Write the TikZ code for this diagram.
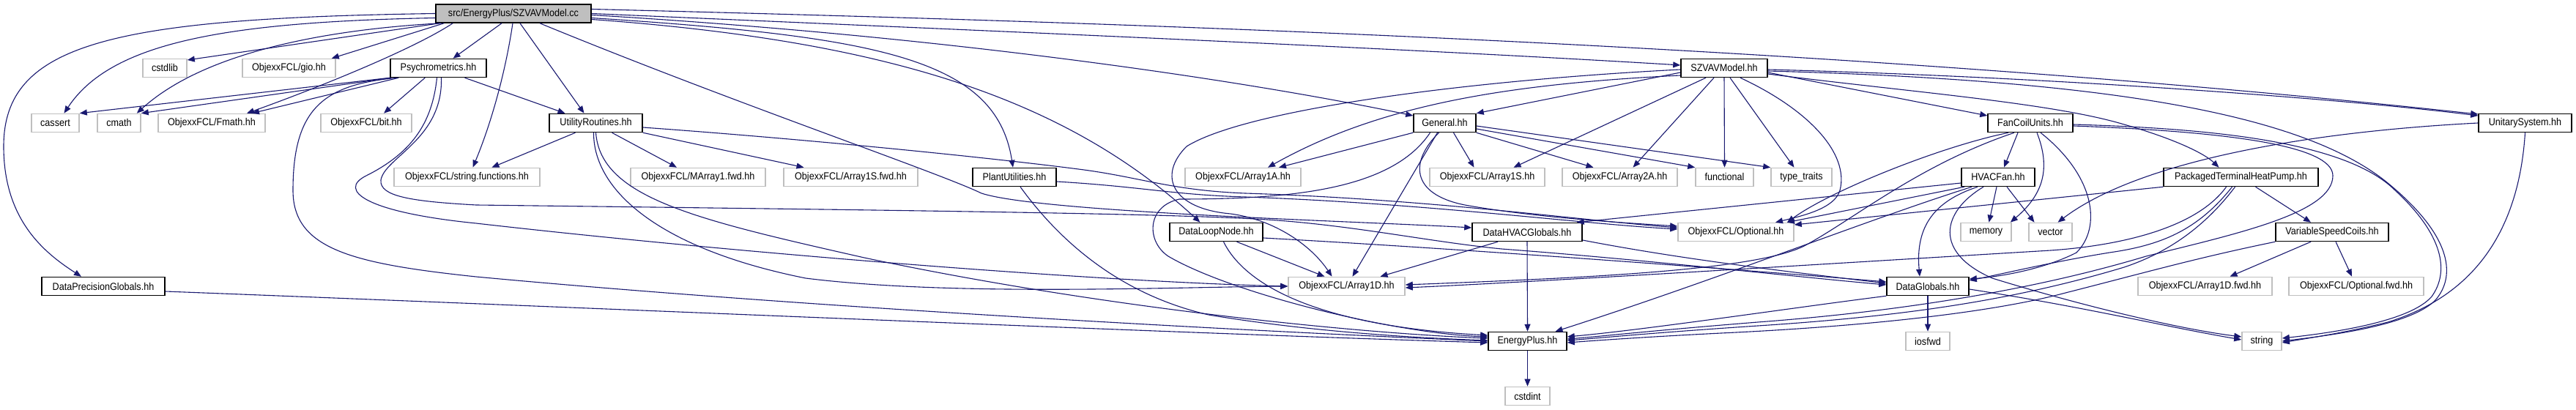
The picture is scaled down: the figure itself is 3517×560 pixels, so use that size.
\documentclass[tikz,border=0pt]{standalone}
\usepackage{fontspec}
\setmainfont{Liberation Sans}[FakeStretch=0.9]
\usetikzlibrary{arrows.meta}
\definecolor{lgray}{HTML}{BFBFBF}
\definecolor{navyedge}{HTML}{191970}
\tikzset{
  box/.style={rectangle, inner sep=0pt, minimum height=12.5pt, font=\fontsize{7}{8}\selectfont, text=black},
  nb/.style={box, draw=black, line width=0.75pt},
  ng/.style={box, draw=lgray, line width=0.8pt},
  ntop/.style={nb, fill=lgray},
  edg/.style={draw=navyedge, line width=0.55pt, -{Triangle[length=5pt,width=4pt]}}
}
\begin{document}
\begin{tikzpicture}[x=0.5pt,y=-0.5pt]
\useasboundingbox (0,0) rectangle (3517,560);
\fill[white] (0,0) rectangle (3517,560);
% row 0
\node[ntop, minimum width=106pt] (A) at (701,18.5) {src/EnergyPlus/SZVAVModel.cc};
% row 1
\node[ng, minimum width=30pt] (cstdlib) at (225,93) {cstdlib};
\node[ng, minimum width=63.5pt] (gio) at (394.5,93) {ObjexxFCL/gio.hh};
\node[nb, minimum width=65.5pt] (Psy) at (598.5,93) {Psychrometrics.hh};
\node[nb, minimum width=59pt] (SZh) at (2354,93) {SZVAVModel.hh};
% row 2
\node[ng, minimum width=32.5pt] (cassert) at (75.5,168) {cassert};
\node[ng, minimum width=29.5pt] (cmath) at (162.5,168) {cmath};
\node[ng, minimum width=73pt] (Fmath) at (289,168) {ObjexxFCL/Fmath.hh};
\node[ng, minimum width=62pt] (bit) at (500,168) {ObjexxFCL/bit.hh};
\node[nb, minimum width=63.5pt] (UR) at (813.5,168) {UtilityRoutines.hh};
\node[nb, minimum width=42.5pt] (General) at (1972.5,168) {General.hh};
\node[nb, minimum width=58pt] (FCU) at (2772,168) {FanCoilUnits.hh};
\node[nb, minimum width=63.5pt] (US) at (3447.5,168) {UnitarySystem.hh};
% row 3
\node[ng, minimum width=99.5pt] (strfun) at (637.5,242) {ObjexxFCL/string.functions.hh};
\node[ng, minimum width=92pt] (MAfwd) at (953,242) {ObjexxFCL/MArray1.fwd.hh};
\node[ng, minimum width=91.5pt] (ASfwd) at (1161.5,242) {ObjexxFCL/Array1S.fwd.hh};
\node[nb, minimum width=57pt] (PU) at (1385,242) {PlantUtilities.hh};
\node[ng, minimum width=79pt] (A1A) at (1697,242) {ObjexxFCL/Array1A.hh};
\node[ng, minimum width=78.5pt] (A1S) at (2030.5,242) {ObjexxFCL/Array1S.hh};
\node[ng, minimum width=78.5pt] (A2A) at (2211.5,242) {ObjexxFCL/Array2A.hh};
\node[ng, minimum width=39.5pt] (functional) at (2354.5,242) {functional};
\node[ng, minimum width=41.5pt] (typetraits) at (2459.5,242) {type\_traits};
\node[nb, minimum width=50pt] (HVACFan) at (2728,242) {HVACFan.hh};
\node[nb, minimum width=105.5pt] (PTHP) at (3059.5,242) {PackagedTerminalHeatPump.hh};
% row 4
\node[nb, minimum width=63.5pt] (DLN) at (1660.5,317) {DataLoopNode.hh};
\node[nb, minimum width=75pt] (DHVAC) at (2085,317) {DataHVACGlobals.hh};
\node[ng, minimum width=79pt] (Optional) at (2370,317) {ObjexxFCL/Optional.hh};
\node[ng, minimum width=34.5pt] (memory) at (2711.5,317) {memory};
\node[ng, minimum width=29.5pt] (vector) at (2799.5,317) {vector};
\node[nb, minimum width=77pt] (VSC) at (3184,317) {VariableSpeedCoils.hh};
% row 5
\node[nb, minimum width=84pt] (DPG) at (141,391) {DataPrecisionGlobals.hh};
\node[ng, minimum width=79.5pt] (A1D) at (1838.5,391) {ObjexxFCL/Array1D.hh};
\node[nb, minimum width=56pt] (DG) at (2632,391) {DataGlobals.hh};
\node[ng, minimum width=91.5pt] (A1Dfwd) at (3010.5,391) {ObjexxFCL/Array1D.fwd.hh};
\node[ng, minimum width=92pt] (Optfwd) at (3217,391) {ObjexxFCL/Optional.fwd.hh};
% row 6
\node[nb, minimum width=53.5pt] (EP) at (2085.5,466) {EnergyPlus.hh};
\node[ng, minimum width=30pt] (iosfwd) at (2632,466) {iosfwd};
\node[ng, minimum width=27pt] (string) at (3088,466) {string};
% row 7
\node[ng, minimum width=30.5pt] (cstdint) at (2085.5,541) {cstdint};

% ---- edges from SZVAVModel.cc
\draw[edg] (A.west) .. controls (150,25) and (5,60) .. (5,200) .. controls (5,300) and (60,345) .. ([xshift=-15pt]DPG.north);
\draw[edg] ([yshift=-3pt]A.west) .. controls (300,30) and (150,60) .. ([xshift=6pt]cassert.north);
\draw[edg] ([xshift=3pt]A.south west) -- ([yshift=5.5pt]cstdlib.east);
\draw[edg] ([xshift=4pt]A.south west) .. controls (450,40) and (280,70) .. ([xshift=-3pt]cmath.north east);
\draw[edg] ([xshift=6pt]A.south west) -- ([xshift=-3pt]gio.north east);
\draw[edg] ([xshift=12pt]A.south west) .. controls (560,70) and (420,125) .. ([xshift=24pt]Fmath.north);
\draw[edg] ([xshift=-8pt]A.south) -- ([xshift=10pt]Psy.north);
\draw[edg] ([xshift=-0.5pt]A.south) .. controls (690,100) and (670,170) .. ([xshift=4pt]strfun.north);
\draw[edg] ([xshift=4.5pt]A.south) -- ([xshift=-8pt]UR.north);
\draw[edg] ([xshift=18pt]A.south) .. controls (1000,140) and (1280,235) .. (1340,264) .. controls (1420,290) and (1850,302) .. ([yshift=3pt]DHVAC.west);
\draw[edg] ([yshift=-3pt]A.east) .. controls (1200,50) and (1360,80) .. ([xshift=-1pt]PU.north);
\draw[edg] ([yshift=-4pt]A.east) .. controls (1200,55) and (1450,130) .. ([xshift=-11pt]DLN.north);
\draw[edg] ([yshift=-1pt]A.east) .. controls (1300,50) and (1700,110) .. ([yshift=5pt]General.west);
\draw[edg] (A.east) .. controls (1300,40) and (1900,65) .. ([yshift=2pt]SZh.west);
\draw[edg] ([yshift=3pt]A.east) .. controls (1500,30) and (2500,60) .. ([yshift=6pt]US.west);

% ---- Psychrometrics
\draw[edg] (Psy.south west) -- (cassert.north east);
\draw[edg] ([xshift=1pt]Psy.south west) -- (cmath.north east);
\draw[edg] ([xshift=6pt]Psy.south west) -- ([xshift=27.5pt]Fmath.north);
\draw[edg] ([xshift=24pt]Psy.south west) -- ([xshift=12pt]bit.north);
\draw[edg] ([xshift=18pt]Psy.south) -- ([xshift=-21pt]UR.north);
\draw[edg] ([xshift=-27.5pt]Psy.south) .. controls (440,115) and (400,150) .. (400,260) .. controls (400,340) and (480,360) .. (650,378) .. controls (1100,420) and (1700,452) .. (EP.west);
\draw[edg] ([xshift=-1pt]Psy.south) .. controls (590,170) and (560,210) .. (500,240) .. controls (460,260) and (500,290) .. (650,305) .. controls (1000,345) and (1500,385) .. (A1D.west);
\draw[edg] ([xshift=2pt]Psy.south) .. controls (605,190) and (525,215) .. (520,246) .. controls (518,268) and (560,275) .. (650,280) .. controls (1300,288) and (1600,292) .. (1730,300) .. controls (1850,308) and (1950,330) .. (2050,340) .. controls (2250,355) and (2450,378) .. ([yshift=1pt]DG.west);

% ---- UtilityRoutines
\draw[edg] ([xshift=-14pt]UR.south) -- ([xshift=17pt]strfun.north);
\draw[edg] ([xshift=11pt]UR.south) -- ([xshift=-14.5pt]MAfwd.north);
\draw[edg] (UR.south east) -- ([xshift=-32pt]ASfwd.north);
\draw[edg] ([yshift=-3pt]UR.east) .. controls (1100,190) and (1350,215) .. (1480,232) .. controls (1560,243) and (1600,260) .. (1700,264) .. controls (1950,272) and (2150,300) .. ([yshift=3pt]Optional.west);
\draw[edg] ([xshift=-1.5pt]UR.south) .. controls (810,260) and (900,340) .. (1100,380) .. controls (1300,405) and (1600,392) .. (A1D.west);
\draw[edg] (UR.south) .. controls (820,270) and (950,300) .. (1180,352) .. controls (1500,420) and (1850,455) .. ([yshift=2pt]EP.west);

% ---- PlantUtilities
\draw[edg] ([yshift=-3pt]PU.east) .. controls (1560,255) and (1600,266) .. (1700,269) .. controls (1950,278) and (2150,305) .. ([yshift=2pt]Optional.west);
\draw[edg] ([xshift=4pt]PU.south) .. controls (1440,320) and (1520,400) .. (1650,430) .. controls (1800,455) and (1950,462) .. ([yshift=0.5pt]EP.west);

% ---- DataPrecisionGlobals
\draw[edg] ([yshift=-3.5pt]DPG.east) .. controls (800,420) and (1600,455) .. ([yshift=-1pt]EP.west);

% ---- DataLoopNode
\draw[edg] ([xshift=14pt]DLN.south) -- ([xshift=-15pt]A1D.north);
\draw[edg] ([xshift=5pt]DLN.south) .. controls (1700,390) and (1800,445) .. ([yshift=4pt]EP.west);
\draw[edg] ([yshift=-4pt]DLN.east) .. controls (2000,340) and (2400,370) .. ([yshift=3pt]DG.west);

% ---- General
\draw[edg] (General.south west) -- ([xshift=24.5pt]A1A.north);
\draw[edg] ([xshift=6pt]General.south) -- ([xshift=-9pt]A1S.north);
\draw[edg] (General.south east) -- ([xshift=-18pt]A2A.north);
\draw[edg] ([yshift=-4pt]General.east) -- (functional.north west);
\draw[edg] ([yshift=-2pt]General.east) -- (typetraits.north west);
\draw[edg] ([xshift=-4pt]General.south) .. controls (1925,220) and (1925,265) .. (2000,280) .. controls (2100,298) and (2230,305) .. ([yshift=4pt]Optional.west);
\draw[edg] ([xshift=-5pt]General.south) -- ([xshift=4pt]A1D.north);
\draw[edg] ([xshift=-10pt]General.south) .. controls (1900,260) and (1760,272) .. (1610,272) .. controls (1565,282) and (1565,330) .. (1595,350) .. controls (1680,400) and (1900,455) .. ([yshift=3pt]EP.west);

% ---- SZVAVModel.hh
\draw[edg] ([yshift=-3pt]SZh.west) -- (General.north east);
\draw[edg] ([yshift=-5pt]SZh.west) .. controls (2050,115) and (1880,145) .. ([xshift=17pt]A1A.north);
\draw[edg] ([xshift=-12.5pt]SZh.south) -- ([xshift=18pt]A1S.north);
\draw[edg] ([xshift=-7pt]SZh.south) -- ([xshift=9pt]A2A.north);
\draw[edg] (SZh.south) -- (functional.north);
\draw[edg] ([xshift=4pt]SZh.south) -- ([xshift=-5pt]typetraits.north);
\draw[edg] ([xshift=11pt]SZh.south) .. controls (2470,150) and (2525,210) .. (2512,260) .. controls (2505,285) and (2460,295) .. ([xshift=27pt]Optional.north);
\draw[edg] ([yshift=-3pt]SZh.east) -- ([yshift=5pt]FCU.west);
\draw[edg] ([yshift=-4pt]SZh.east) .. controls (2600,125) and (2800,140) .. (2900,170) .. controls (2970,190) and (3010,210) .. ([xshift=-15pt]PTHP.north);
\draw[edg] ([yshift=-1pt]SZh.east) .. controls (2800,105) and (3200,135) .. ([yshift=5pt]US.west);
\draw[edg] ([yshift=-1pt]SZh.west) .. controls (2000,110) and (1700,150) .. (1620,200) .. controls (1580,240) and (1600,285) .. (1680,292) .. controls (1740,300) and (1790,335) .. ([xshift=-10pt]A1D.north);
\draw[edg] ([yshift=-2pt]SZh.east) .. controls (2900,110) and (3150,160) .. (3260,250) .. controls (3345,320) and (3355,375) .. (3325,410) .. controls (3290,445) and (3180,458) .. (string.east);

% ---- FanCoilUnits
\draw[edg] ([xshift=-8.5pt]FCU.south) -- ([xshift=4pt]HVACFan.north);
\draw[edg] ([xshift=4.5pt]FCU.south) .. controls (2800,230) and (2790,265) .. ([xshift=-1pt]memory.north east);
\draw[edg] ([xshift=7pt]FCU.south) .. controls (2860,240) and (2870,310) .. (2835,345) .. controls (2790,368) and (2730,378) .. ([yshift=5pt]DG.east);
\draw[edg] ([xshift=-15pt]FCU.south) .. controls (2650,200) and (2500,260) .. ([xshift=35pt]Optional.north);
\draw[edg] ([xshift=-11pt]FCU.south) .. controls (2620,225) and (2530,300) .. (2465,335) .. controls (2400,370) and (2150,380) .. ([yshift=1pt]A1D.east);
\draw[edg] ([yshift=-1pt]FCU.east) .. controls (3000,175) and (3200,190) .. (3270,260) .. controls (3335,320) and (3345,370) .. (3320,405) .. controls (3290,440) and (3180,455) .. ([yshift=2pt]string.east);
\draw[edg] ([yshift=-2pt]FCU.east) .. controls (3050,180) and (3185,200) .. (3185,240) .. controls (3185,290) and (3060,318) .. (2930,350) .. controls (2780,395) and (2600,425) .. (2400,440) .. controls (2250,452) and (2180,460) .. ([yshift=1.5pt]EP.east);

% ---- HVACFan
\draw[edg] ([xshift=-23pt]HVACFan.south) -- ([xshift=35pt]Optional.north);
\draw[edg] ([yshift=-4pt]HVACFan.west) -- ([xshift=-4pt]DHVAC.north east);
\draw[edg] ([xshift=-1pt]HVACFan.south) -- ([xshift=2pt]memory.north);
\draw[edg] ([xshift=6pt]HVACFan.south) -- ([xshift=-11pt]vector.north);
\draw[edg] ([xshift=-14pt]HVACFan.south) .. controls (2640,275) and (2615,310) .. ([xshift=-5.5pt]DG.north);
\draw[edg] ([xshift=-10pt]HVACFan.south) .. controls (2650,290) and (2640,345) .. (2720,380) .. controls (2850,420) and (2980,450) .. ([yshift=3pt]string.west);
\draw[edg] ([xshift=-18pt]HVACFan.south) .. controls (2550,300) and (2350,380) .. ([xshift=19pt]EP.north);

% ---- UnitarySystem
\draw[edg] (US.west) .. controls (3150,180) and (2920,220) .. ([xshift=5pt]vector.north);
\draw[edg] (US.south) .. controls (3440,300) and (3390,400) .. (3260,440) .. controls (3200,455) and (3150,462) .. ([yshift=-1pt]string.east);

% ---- PackagedTerminalHeatPump
\draw[edg] ([xshift=10pt]PTHP.south) -- ([xshift=-14.5pt]VSC.north);
\draw[edg] (PTHP.south west) -- ([yshift=5pt]Optional.east);
\draw[edg] ([xshift=-10pt]PTHP.south) .. controls (3000,310) and (2900,335) .. (2800,342) .. controls (2500,360) and (2100,385) .. ([yshift=-1pt]A1D.east);
\draw[edg] ([xshift=-6pt]PTHP.south) .. controls (3000,315) and (2950,335) .. (2880,345) .. controls (2800,358) and (2730,375) .. ([yshift=4pt]DG.east);
\draw[edg] ([xshift=-4pt]PTHP.south) .. controls (3010,310) and (2960,345) .. (2900,365) .. controls (2750,410) and (2600,432) .. (2400,445) .. controls (2250,455) and (2180,462) .. ([yshift=0.5pt]EP.east);

% ---- VariableSpeedCoils
\draw[edg] ([xshift=-14.5pt]VSC.south) -- ([xshift=17pt]A1Dfwd.north);
\draw[edg] ([xshift=2.5pt]VSC.south) -- ([xshift=-3pt]Optfwd.north);
\draw[edg] (VSC.south west) .. controls (3000,352) and (2930,372) .. (2820,400) .. controls (2700,432) and (2500,448) .. (2350,455) .. controls (2250,460) and (2180,465) .. ([yshift=-1pt]EP.east);

% ---- DataGlobals
\draw[edg] (DG.south) -- (iosfwd.north);
\draw[edg] (DG.south west) .. controls (2450,420) and (2250,450) .. ([yshift=3pt]EP.east);
\draw[edg] ([yshift=-2pt]DG.east) .. controls (2850,420) and (2950,445) .. ([yshift=1pt]string.west);

% ---- DataHVACGlobals
\draw[edg] ([xshift=-20pt]DHVAC.south) -- ([xshift=23pt]A1D.north);
\draw[edg] (DHVAC.south) -- (EP.north);
\draw[edg] ([yshift=-5.5pt]DHVAC.east) .. controls (2300,355) and (2450,372) .. ([yshift=2pt]DG.west);

% ---- EnergyPlus
\draw[edg] (EP.south) -- (cstdint.north);
\end{tikzpicture}
\end{document}
